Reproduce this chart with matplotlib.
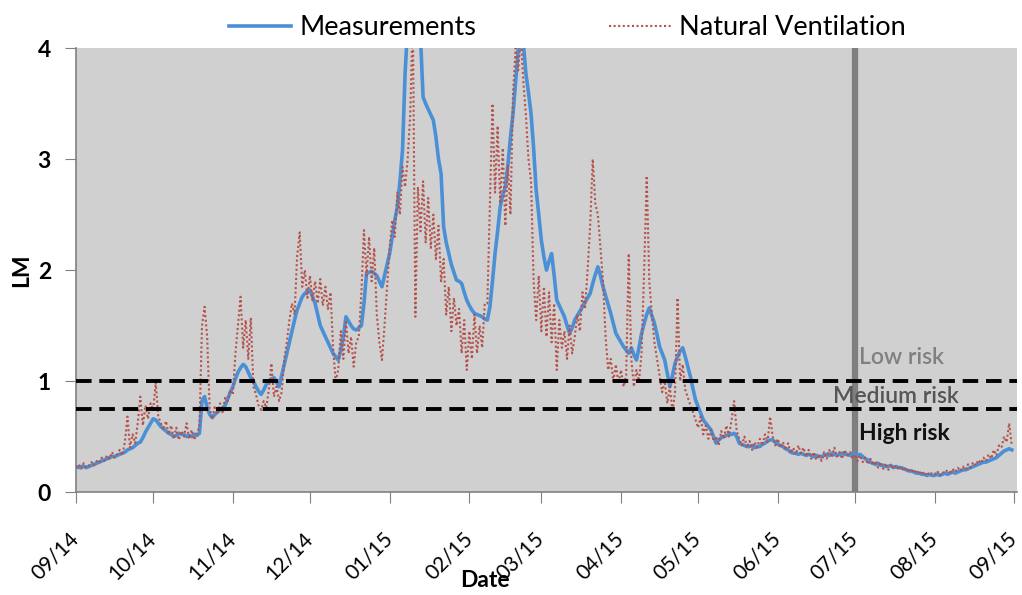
import numpy as np
import pandas as pd
import matplotlib
matplotlib.use('Agg')
import matplotlib.pyplot as plt
import matplotlib.dates as mdates
import matplotlib.transforms as mtransforms

plt.rcParams['font.family'] = ['Lato', 'DejaVu Sans']

# daily values, 1 Sep 2014 -> 31 Aug 2015
measurements = [
    0.23, 0.22, 0.23, 0.23, 0.22, 0.23, 0.24, 0.25, 0.26, 0.27,
    0.28, 0.29, 0.30, 0.31, 0.32, 0.32, 0.33, 0.34, 0.35, 0.36,
    0.38, 0.39, 0.40, 0.42, 0.44, 0.45, 0.49, 0.54, 0.58, 0.62,
    0.66, 0.65, 0.62, 0.59, 0.57, 0.55, 0.53, 0.52, 0.50, 0.51,
    0.53, 0.52, 0.52, 0.50, 0.51, 0.50, 0.52, 0.51, 0.53, 0.82,
    0.86, 0.76, 0.70, 0.67, 0.70, 0.72, 0.74, 0.76, 0.78, 0.84,
    0.90, 0.95, 1.02, 1.08, 1.12, 1.15, 1.13, 1.08, 1.03, 1.00,
    0.95, 0.91, 0.88, 0.92, 0.97, 1.00, 1.02, 1.03, 0.99, 0.95,
    1.05, 1.15, 1.25, 1.35, 1.45, 1.55, 1.64, 1.70, 1.76, 1.79,
    1.81, 1.82, 1.76, 1.70, 1.60, 1.50, 1.45, 1.40, 1.35, 1.30,
    1.25, 1.22, 1.19, 1.28, 1.40, 1.58, 1.54, 1.50, 1.47, 1.46,
    1.48, 1.50, 1.70, 1.97, 1.98, 1.99, 1.97, 1.95, 1.90, 1.85,
    1.95, 2.05, 2.15, 2.30, 2.45, 2.57, 2.80, 3.08, 3.77, 4.20,
    4.40, 4.50, 4.40, 4.25, 4.10, 3.56, 3.50, 3.45, 3.40, 3.35,
    3.20, 3.00, 2.87, 2.39, 2.25, 2.15, 2.05, 1.98, 1.91, 1.90,
    1.88, 1.80, 1.73, 1.68, 1.64, 1.61, 1.60, 1.59, 1.58, 1.56,
    1.55, 1.67, 1.90, 2.15, 2.35, 2.57, 2.68, 2.75, 2.95, 3.20,
    3.41, 3.70, 3.98, 4.02, 4.05, 3.77, 3.60, 3.41, 3.10, 2.72,
    2.50, 2.27, 2.12, 2.00, 2.08, 2.15, 1.95, 1.73, 1.68, 1.63,
    1.58, 1.50, 1.43, 1.48, 1.55, 1.59, 1.63, 1.67, 1.71, 1.75,
    1.79, 1.88, 1.96, 2.03, 1.95, 1.85, 1.77, 1.69, 1.61, 1.52,
    1.43, 1.39, 1.35, 1.31, 1.28, 1.25, 1.30, 1.24, 1.19, 1.30,
    1.43, 1.52, 1.60, 1.66, 1.59, 1.52, 1.42, 1.31, 1.25, 1.19,
    1.07, 0.95, 1.05, 1.16, 1.22, 1.27, 1.30, 1.22, 1.13, 1.04,
    0.93, 0.83, 0.77, 0.71, 0.65, 0.62, 0.59, 0.56, 0.50, 0.44,
    0.47, 0.49, 0.50, 0.51, 0.52, 0.52, 0.53, 0.50, 0.44, 0.43,
    0.42, 0.41, 0.41, 0.42, 0.40, 0.41, 0.41, 0.43, 0.44, 0.46,
    0.47, 0.47, 0.45, 0.43, 0.42, 0.41, 0.39, 0.38, 0.36, 0.35,
    0.35, 0.34, 0.35, 0.34, 0.33, 0.34, 0.33, 0.32, 0.33, 0.32,
    0.32, 0.33, 0.34, 0.33, 0.35, 0.34, 0.33, 0.34, 0.35, 0.34,
    0.34, 0.33, 0.35, 0.34, 0.33, 0.34, 0.32, 0.30, 0.29, 0.27,
    0.26, 0.25, 0.26, 0.24, 0.24, 0.23, 0.23, 0.24, 0.22, 0.23,
    0.22, 0.22, 0.21, 0.20, 0.19, 0.19, 0.18, 0.17, 0.17, 0.16,
    0.16, 0.15, 0.16, 0.15, 0.15, 0.16, 0.15, 0.16, 0.17, 0.16,
    0.17, 0.18, 0.17, 0.18, 0.19, 0.20, 0.20, 0.21, 0.22, 0.23,
    0.24, 0.25, 0.26, 0.27, 0.27, 0.28, 0.29, 0.30, 0.31, 0.33,
    0.35, 0.37, 0.38, 0.39, 0.38,
]

natural_vent = [
    0.22, 0.25, 0.21, 0.26, 0.22, 0.24, 0.27, 0.24, 0.28, 0.26,
    0.31, 0.28, 0.33, 0.30, 0.36, 0.31, 0.34, 0.38, 0.33, 0.45,
    0.68, 0.40, 0.52, 0.44, 0.62, 0.86, 0.60, 0.78, 0.66, 0.80,
    0.74, 0.99, 0.68, 0.62, 0.56, 0.64, 0.52, 0.60, 0.48, 0.58,
    0.47, 0.55, 0.50, 0.62, 0.48, 0.56, 0.47, 0.54, 0.58, 1.50,
    1.67, 1.40, 0.75, 0.66, 0.78, 0.70, 0.80, 0.72, 0.85, 0.82,
    0.92, 0.88, 1.25, 1.50, 1.76, 1.30, 1.55, 1.20, 1.57, 0.95,
    0.88, 0.78, 0.74, 0.82, 0.76, 0.92, 1.16, 0.86, 0.95, 0.82,
    0.90, 1.20, 1.35, 1.55, 1.70, 1.60, 2.12, 2.34, 1.85, 2.00,
    1.75, 1.95, 1.72, 1.90, 1.70, 1.92, 1.68, 1.85, 1.65, 1.80,
    1.30, 1.00, 1.10, 1.45, 1.20, 1.55, 1.25, 1.40, 1.13, 1.35,
    1.40, 1.80, 2.36, 1.95, 2.30, 1.90, 2.20, 1.60, 1.35, 1.19,
    1.50, 1.85, 2.20, 2.45, 2.30, 2.70, 2.50, 2.93, 2.75, 3.00,
    3.40, 4.30, 1.58, 2.75, 2.35, 2.80, 2.25, 2.65, 2.20, 2.50,
    2.10, 2.40, 1.90, 2.10, 1.60, 1.85, 1.45, 1.75, 1.50, 1.65,
    1.25, 1.55, 1.10, 1.45, 1.20, 1.60, 1.25, 1.50, 1.30, 1.70,
    1.70, 2.60, 3.50, 2.70, 3.30, 2.60, 3.10, 2.40, 2.95, 2.50,
    3.60, 4.00, 3.80, 4.10, 3.70, 3.40, 3.00, 2.80, 1.90, 1.55,
    1.95, 1.45, 1.85, 1.40, 1.80, 1.35, 1.70, 1.10, 1.55, 1.30,
    1.45, 1.20, 1.50, 1.25, 1.40, 1.60, 1.45, 1.80, 1.65, 2.00,
    2.40, 3.00, 2.60, 2.50, 2.20, 1.90, 1.40, 1.10, 1.20, 1.00,
    1.15, 0.98, 1.10, 0.95, 1.05, 2.15, 1.20, 0.95, 1.10, 1.00,
    1.25, 2.00, 2.85, 1.90, 1.60, 1.35, 1.20, 1.05, 0.90, 1.00,
    0.80, 0.95, 0.72, 0.90, 1.75, 1.00, 1.15, 0.92, 0.85, 0.78,
    0.72, 0.65, 0.58, 0.68, 0.52, 0.60, 0.48, 0.56, 0.46, 0.50,
    0.42, 0.55, 0.48, 0.60, 0.50, 0.65, 0.82, 0.55, 0.48, 0.42,
    0.50, 0.40, 0.46, 0.38, 0.45, 0.40, 0.48, 0.42, 0.52, 0.45,
    0.68, 0.50, 0.42, 0.48, 0.40, 0.45, 0.38, 0.44, 0.35, 0.40,
    0.34, 0.42, 0.35, 0.40, 0.32, 0.38, 0.30, 0.36, 0.29, 0.34,
    0.28, 0.36, 0.30, 0.38, 0.31, 0.40, 0.32, 0.36, 0.30, 0.38,
    0.33, 0.36, 0.30, 0.34, 0.28, 0.33, 0.27, 0.31, 0.25, 0.30,
    0.24, 0.28, 0.22, 0.27, 0.21, 0.26, 0.20, 0.25, 0.21, 0.24,
    0.20, 0.23, 0.19, 0.22, 0.18, 0.21, 0.17, 0.20, 0.16, 0.19,
    0.15, 0.18, 0.15, 0.17, 0.16, 0.19, 0.15, 0.18, 0.17, 0.20,
    0.16, 0.21, 0.18, 0.22, 0.19, 0.23, 0.20, 0.25, 0.22, 0.27,
    0.24, 0.29, 0.26, 0.31, 0.28, 0.34, 0.30, 0.38, 0.33, 0.42,
    0.40, 0.50, 0.45, 0.62, 0.42,
]

dates = pd.date_range('2014-09-01', periods=len(measurements), freq='D')

risk_limits = [1.0, 0.75]
risk_labels = ['Low risk', 'Medium risk', 'High risk']
risk_label_y = [1.21, 0.86, 0.53]
risk_colors = ['#808080', '#555555', '#111111']
risk_weights = ['semibold', 'semibold', 'bold']
marker_date = pd.Timestamp('2015-07-01')

fig = plt.figure(figsize=(10.22, 5.95), dpi=100)
ax = fig.add_axes([0.0744, 0.173, 0.9206, 0.746])
ax.set_facecolor('#d0d0d0')

ax.plot(dates, measurements, color='#4a90d6', lw=2.6, label='Measurements', zorder=3)
ax.plot(dates, natural_vent, color='#b5524c', lw=1.5, ls=(0, (1, 1.2)),
        label='Natural Ventilation', zorder=4)

for lim in risk_limits:
    ax.axhline(lim, color='black', lw=2.8, ls=(0, (4, 2)), zorder=5)
ax.axvline(marker_date, color='#7f7f7f', lw=4.5, zorder=2)

for lab, yy, col, wt in zip(risk_labels, risk_label_y, risk_colors, risk_weights):
    if lab == 'Medium risk':
        xx = marker_date - pd.Timedelta(days=8.5)
    else:
        xx = marker_date + pd.Timedelta(days=1.5)
    ax.text(xx, yy, lab, color=col, fontsize=16.5, fontweight=wt,
            va='center', ha='left', zorder=6)

ax.set_ylim(0, 4)
ax.set_xlim(pd.Timestamp('2014-09-01'), pd.Timestamp('2015-09-02'))
ax.set_yticks([0, 1, 2, 3, 4])
ax.xaxis.set_major_locator(mdates.MonthLocator())
ax.xaxis.set_major_formatter(mdates.DateFormatter('%m/%y'))
ax.tick_params(axis='x', labelsize=15, length=8, color='#808080', rotation=45, pad=18)
ax.tick_params(axis='y', labelsize=16.5, length=8, color='#808080', pad=10)
shift = mtransforms.ScaledTranslation(5 / 72, 0, fig.dpi_scale_trans)
for lab in ax.get_xticklabels():
    lab.set_ha('right')
    lab.set_va('top')
    lab.set_rotation_mode('default')
    lab.set_transform(lab.get_transform() + shift)
for lab in ax.get_yticklabels():
    lab.set_fontweight('bold')

for s in ['top', 'right']:
    ax.spines[s].set_visible(False)
for s in ['left', 'bottom']:
    ax.spines[s].set_color('#808080')
    ax.spines[s].set_linewidth(1.2)

ax.set_ylabel('LM', fontsize=16.5, fontweight='bold', labelpad=4)
ax.set_xlabel('Date', fontsize=16.5, fontweight='bold')
ax.xaxis.set_label_coords(0.435, -0.175)

fig.legend(loc='upper center', bbox_to_anchor=(0.555, 1.015), ncol=2, frameon=False,
           fontsize=19.5, columnspacing=4.9, handlelength=2.3, handletextpad=0.3)

fig.savefig('out.png', dpi=100)
